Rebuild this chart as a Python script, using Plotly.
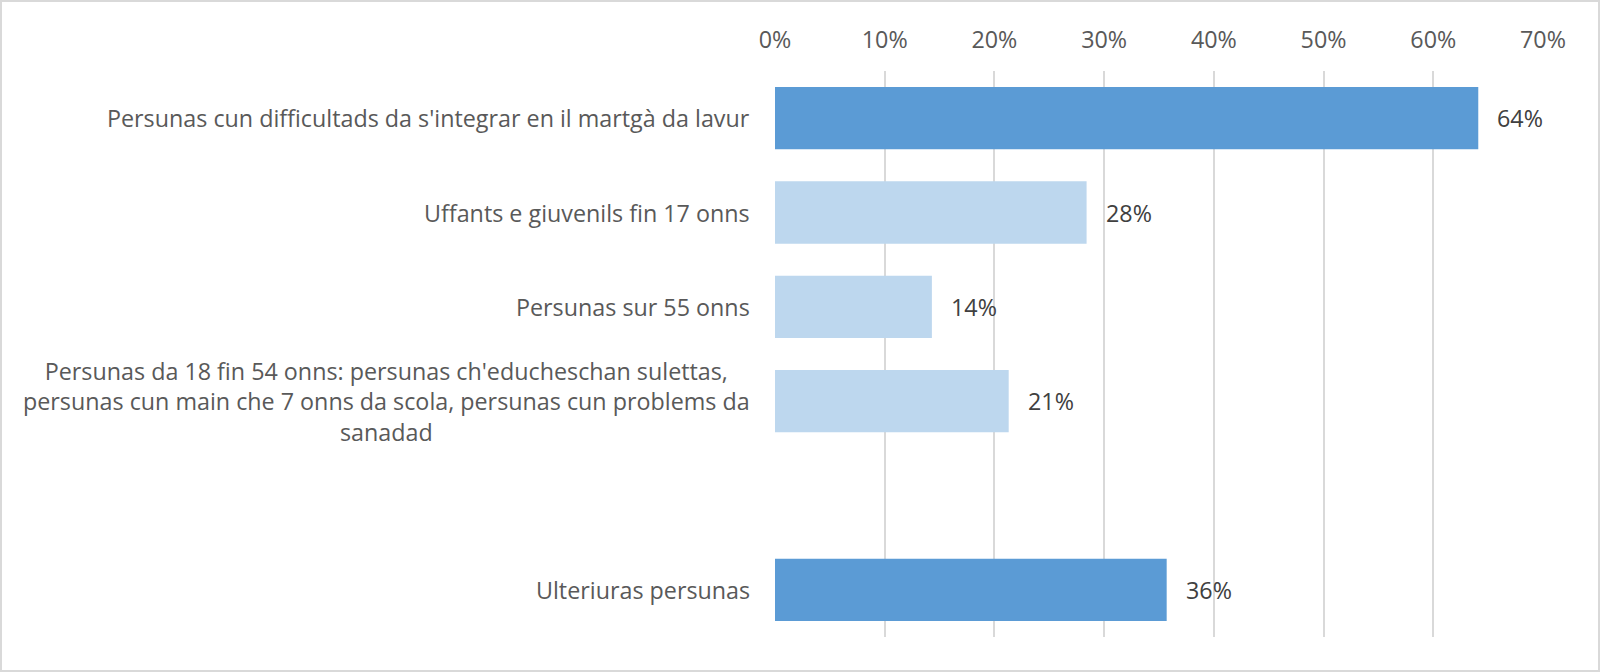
import plotly.graph_objects as go

categories = [
    "Persunas cun difficultads da s'integrar en il martgà da lavur",
    "Uffants e giuvenils fin 17 onns",
    "Persunas sur 55 onns",
    "Persunas da 18 fin 54 onns: persunas ch'educheschan sulettas,<br>persunas cun main che 7 onns da scola, persunas cun problems da<br>sanadad",
    " ",
    "Ulteriuras persunas",
]
values = [0.641, 0.284, 0.143, 0.213, None, 0.357]
colors = ["#5B9BD5", "#BDD7EE", "#BDD7EE", "#BDD7EE", "#BDD7EE", "#5B9BD5"]
tick_vals = [0, 0.1, 0.2, 0.3, 0.4, 0.5, 0.6, 0.7]
tick_text = ["0%", "10%", "20%", "30%", "40%", "50%", "60%", "70%"]

W, H = 1600, 672
ml, mr, mt, mb = 775, 57, 71, 35
pw, ph = W - ml - mr, H - mt - mb
FONT = "Open Sans, Liberation Sans, sans-serif"
FS = 23.3

fig = go.Figure()
fig.add_trace(go.Bar(
    y=categories, x=values, orientation="h",
    marker=dict(color=colors, line=dict(width=0)),
    hoverinfo="skip",
))

annotations = []
for c, v in zip(categories, values):
    if c.strip():
        annotations.append(dict(
            x=0, xref="paper", y=c, yref="y", text=c, showarrow=False,
            xanchor="right", yanchor="middle", xshift=-23, align="center",
            font=dict(family=FONT, size=FS, color="#595959"),
        ))
    if v is not None:
        annotations.append(dict(
            x=v, xref="x", y=c, yref="y", text=f"{v*100:.0f}%", showarrow=False,
            xanchor="left", yanchor="middle", xshift=17,
            font=dict(family=FONT, size=FS, color="#404040"),
        ))

fig.update_layout(
    width=W, height=H,
    margin=dict(l=ml, r=mr, t=mt, b=mb),
    paper_bgcolor="white", plot_bgcolor="white",
    bargap=0.34,
    showlegend=False,
    font=dict(family=FONT, size=FS, color="#595959"),
    xaxis=dict(
        side="top", range=[0, 0.7], tickvals=tick_vals, ticktext=tick_text,
        showgrid=True, gridcolor="#D9D9D9", gridwidth=2,
        zeroline=False, showline=False,
        ticks="outside", ticklen=13, tickcolor="rgba(0,0,0,0)",
        tickfont=dict(family=FONT, size=FS, color="#595959"),
    ),
    yaxis=dict(
        categoryorder="array", categoryarray=categories,
        autorange="reversed", showgrid=False, zeroline=False, showline=False,
        showticklabels=False,
    ),
    annotations=annotations,
    shapes=[dict(
        type="rect", xref="paper", yref="paper",
        x0=(1 - ml) / pw, x1=(W - 1 - ml) / pw,
        y0=-(mb - 1) / ph, y1=1 + (mt - 1) / ph,
        line=dict(color="#D9D9D9", width=2), fillcolor="rgba(0,0,0,0)", layer="below",
    )],
)

fig.write_html(
    "out.html",
    config={"displayModeBar": False},
    post_script="document.body.style.margin='0';document.body.style.overflow='hidden';",
)
